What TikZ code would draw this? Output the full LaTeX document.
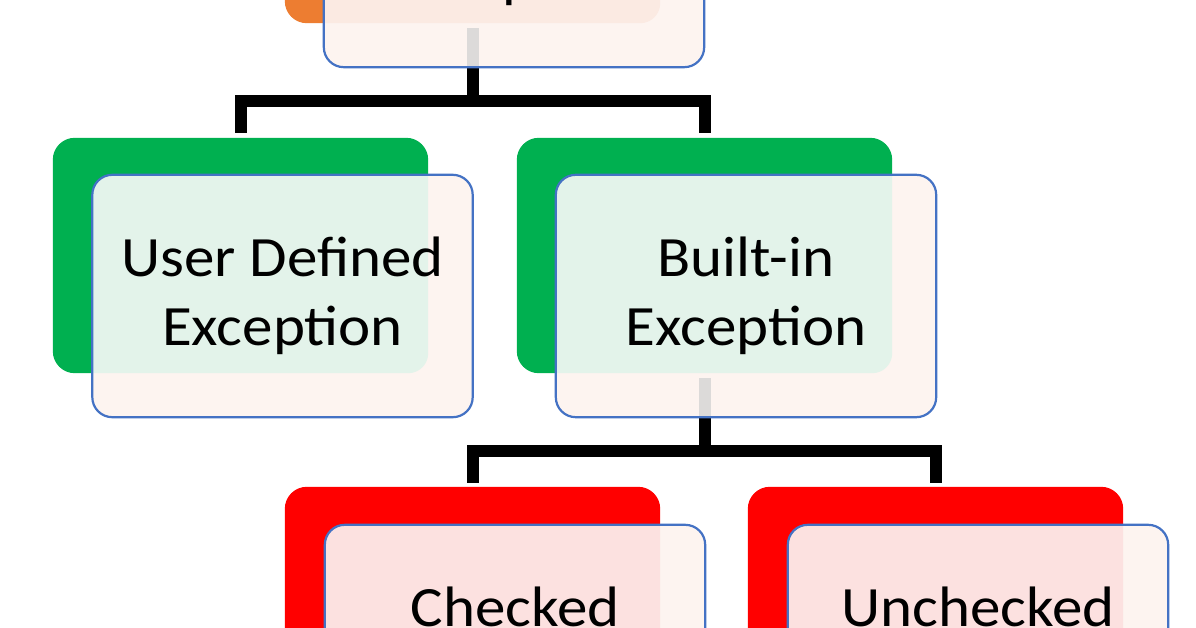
\documentclass[tikz,border=0pt]{standalone}
\usepackage{fontspec}
\setmainfont{Carlito}
\newfontfamily\lblfont[FakeStretch=1.07]{Carlito}
\definecolor{borange}{HTML}{ED7D31}
\definecolor{bgreen}{HTML}{00B050}
\definecolor{bred}{HTML}{FF0000}
\definecolor{fblue}{HTML}{4472C4}
\definecolor{fcream}{HTML}{FDF4F0}
\definecolor{tintorange}{HTML}{FBEAE2}
\definecolor{tintgreen}{HTML}{E3F3EA}
\definecolor{tintred}{HTML}{FCE1E0}
\definecolor{seegray}{HTML}{DCDAD9}
\tikzset{
  backbox/.style={rectangle, minimum width=375pt, minimum height=235pt, inner sep=0pt, draw=none},
  frontbox/.style={rectangle, minimum width=380pt, minimum height=242pt, inner sep=0pt, draw=none},
  backfill/.style={rounded corners=22pt},
  frontfill/.style={fill=fcream, rounded corners=20pt},
  frontedge/.style={draw=fblue, line width=2.2pt, rounded corners=20pt},
  lbl/.style={align=center, inner sep=0pt, font=\lblfont\fontsize{57}{69}\selectfont, text=black},
  conn/.style={draw=black, line width=12pt, line join=miter, line cap=butt},
  graybar/.style={draw=seegray, line width=12pt, line cap=butt}
}
\begin{document}
\begin{tikzpicture}[x=1pt,y=-1pt]
\useasboundingbox (0,0) rectangle (1196,628);
\fill[white] (0,0) rectangle (1196,628);
% node positions
\path (472.5,-94.5) node[backbox] (topb) {}
      (240.5,255.5) node[backbox] (udb) {}
      (704.5,255.5) node[backbox] (bib) {}
      (472.5,604.5) node[backbox] (chb) {}
      (935.5,604.5) node[backbox] (unb) {};
\node[frontbox] (topf) at ([xshift=41.5pt,yshift=-40.5pt]topb.center) {};
\node[frontbox] (udf) at ([xshift=42pt,yshift=-40.5pt]udb.center) {};
\node[frontbox] (bif) at ([xshift=41.5pt,yshift=-40.5pt]bib.center) {};
\node[frontbox] (chf) at ([xshift=42.5pt,yshift=-41.5pt]chb.center) {};
\node[frontbox] (unf) at ([xshift=42.5pt,yshift=-41.5pt]unb.center) {};
\coordinate (j1) at (472.5,101);
\coordinate (j2) at (704.5,451);
% connectors
\draw[conn] (topb.center) -- (j1);
\draw[conn] ([yshift=5pt]udb.north) |- (j1) -| ([yshift=5pt]bib.north);
\draw[conn] (bib.center) -- (j2);
\draw[conn] ([yshift=4pt]chb.north) |- (j2) -| ([yshift=4pt]unb.north);
% back boxes
\fill[borange, backfill] (topb.south west) rectangle (topb.north east);
\fill[bgreen, backfill] (udb.south west) rectangle (udb.north east);
\fill[bgreen, backfill] (bib.south west) rectangle (bib.north east);
\fill[bred, backfill] (chb.south west) rectangle (chb.north east);
\fill[bred, backfill] (unb.south west) rectangle (unb.north east);
% front boxes: fill, tint over the back box, connector seen through, edge
\foreach \f/\b/\t in {topf/topb/tintorange, udf/udb/tintgreen, bif/bib/tintgreen, chf/chb/tintred, unf/unb/tintred}{
  \fill[frontfill] (\f.south west) rectangle (\f.north east);
  \begin{scope}
    \clip[rounded corners=20pt] (\f.south west) rectangle (\f.north east);
    \fill[\t, rounded corners=20pt] (\b.south west) rectangle (\b.north east);
  \end{scope}
}
\draw[graybar] ([yshift=-5pt]topb.south) -- (topb.south |- topf.south);
\draw[graybar] ([yshift=-5pt]bib.south) -- (bib.south |- bif.south);
\foreach \f in {topf, udf, bif, chf, unf}{
  \draw[frontedge] (\f.south west) rectangle (\f.north east);
}
% labels
\node[lbl, anchor=base] at ([xshift=-2pt,yshift=-51pt]topf.center) {Exception};
\node[lbl] (udt) at (udf.center) {User Defined\\Exception};
\node[lbl] (bit) at (bif.center) {Built-in\\Exception};
\node[lbl] (cht) at (chf.center) {Checked\\Exception};
\node[lbl] (unt) at (unf.center) {Unchecked\\Exception};
\end{tikzpicture}
\end{document}
